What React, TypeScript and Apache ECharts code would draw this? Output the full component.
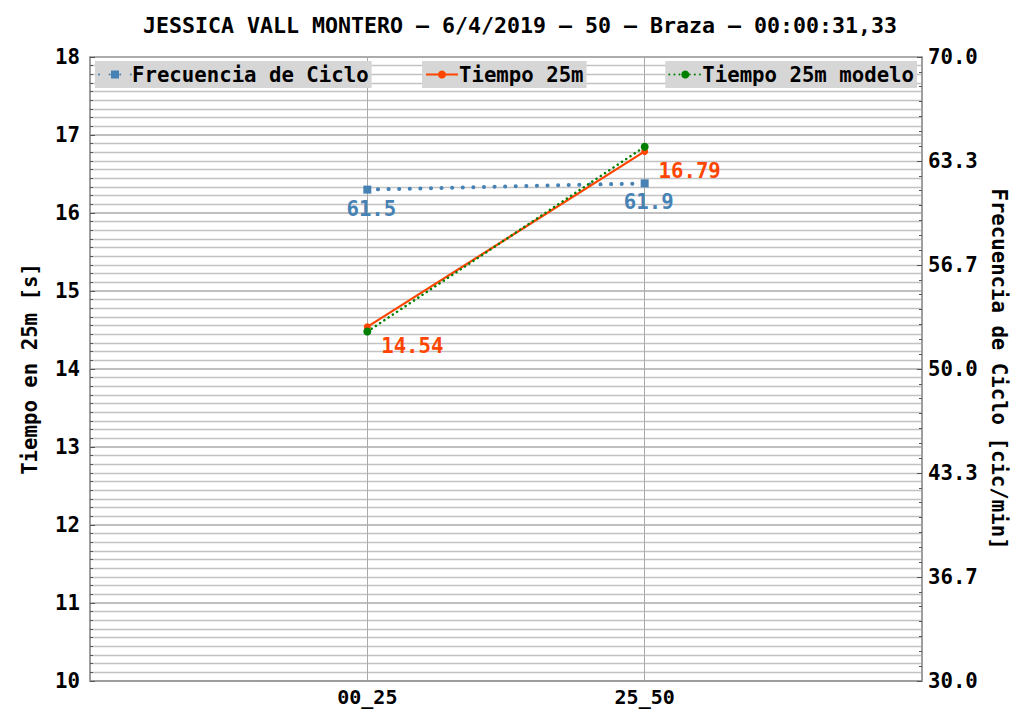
import React, { useEffect, useRef } from "react";
import * as echarts from "echarts";

const titleText = "JESSICA VALL MONTERO – 6/4/2019 – 50 – Braza – 00:00:31,33";
const categories = ["", "00_25", "25_50", ""];
const tiempo25 = [null, 14.54, 16.79, null];
const tiempoModelo = [null, 14.48, 16.85, null];
const frecuencia = [null, 61.5, 61.9, null];
const leftMin = 10;
const leftMax = 18;
const rightMin = 30;
const rightMax = 70;

const FONT = "DejaVu Sans Mono";
const BLUE = "#4682b4";
const RED = "#ff4500";
const GREEN = "#008000";

export default function App() {
  const ref = useRef<HTMLDivElement>(null);
  useEffect(() => {
    if (!ref.current) return;
    const chart = echarts.init(ref.current, null, { renderer: "svg" });
    const txt = { fontFamily: FONT, fontWeight: "bold" as const, fontSize: 20.7, color: "#000" };
    const legendBase = {
      top: 61,
      orient: "horizontal" as const,
      backgroundColor: "#d6d6d6",
      padding: [3, 3, 3, 3],
      itemWidth: 32,
      itemHeight: 10,
      itemGap: 4,
      textStyle: { ...txt, padding: [0, 0, 0, -4] },
    };
    chart.setOption({
      animation: false,
      backgroundColor: "#fff",
      title: {
        text: titleText,
        left: 143,
        top: 14,
        padding: 0,
        textStyle: { ...txt, fontSize: 21.6 },
      },
      legend: [
        { ...legendBase, left: 95, data: ["Frecuencia de Ciclo"] },
        { ...legendBase, left: 422, data: ["Tiempo 25m"] },
        { ...legendBase, right: 111, data: ["Tiempo 25m modelo"] },
      ],
      grid: {
        left: 90,
        right: 106,
        top: 57,
        bottom: 30,
        show: true,
        borderColor: "#999",
        borderWidth: 1.5,
      },
      xAxis: {
        type: "category",
        data: categories,
        boundaryGap: false,
        axisLine: { lineStyle: { color: "#999", width: 1.5 } },
        axisTick: { show: false },
        axisLabel: { ...txt, fontSize: 20, margin: 6, interval: 0 },
        splitLine: { show: true, lineStyle: { color: "#aaa", width: 1 } },
      },
      yAxis: [
        {
          type: "value",
          min: leftMin,
          max: leftMax,
          interval: 1,
          position: "left",
          name: "Tiempo en 25m [s]",
          nameLocation: "middle",
          nameGap: 50,
          nameTextStyle: { ...txt },
          axisLine: { show: true, lineStyle: { color: "#999", width: 1.5 } },
          axisTick: { show: true, inside: true, length: 5, lineStyle: { color: "#555" } },
          minorTick: { show: true, splitNumber: 9, length: 3, lineStyle: { color: "#555" } },
          axisLabel: { ...txt, margin: 10 },
          splitLine: { show: true, lineStyle: { color: "#aaa", width: 1.5 } },
          minorSplitLine: { show: true, lineStyle: { color: "#c2c2c2", width: 1.3 } },
        },
        {
          type: "value",
          min: rightMin,
          max: rightMax,
          interval: (rightMax - rightMin) / 6,
          position: "right",
          name: "Frecuencia de Ciclo [cic/min]",
          nameLocation: "middle",
          nameGap: 66,
          nameRotate: -90,
          nameTextStyle: { ...txt },
          axisLine: { show: true, lineStyle: { color: "#999", width: 1.5 } },
          axisTick: { show: true, inside: true, length: 5, lineStyle: { color: "#555" } },
          minorTick: { show: true, splitNumber: 7, length: 3, lineStyle: { color: "#555" } },
          axisLabel: { ...txt, margin: 6, formatter: (v: number) => v.toFixed(1) },
          splitLine: { show: false },
        },
      ],
      series: [
        {
          name: "Frecuencia de Ciclo",
          type: "line",
          yAxisIndex: 1,
          data: frecuencia,
          symbol: "rect",
          symbolSize: 8,
          lineStyle: { color: BLUE, width: 4, type: [0.1, 10.5], cap: "round" },
          itemStyle: { color: BLUE },
          label: {
            show: true,
            position: "inside",
            offset: [4, 19],
            ...txt,
            color: BLUE,
            formatter: (p: any) => p.value.toFixed(1),
          },
        },
        {
          name: "Tiempo 25m",
          type: "line",
          yAxisIndex: 0,
          data: tiempo25,
          symbol: "circle",
          symbolSize: 7,
          lineStyle: { color: RED, width: 2.2 },
          itemStyle: { color: RED },
          label: {
            show: true,
            position: "inside",
            offset: [45, 19.5],
            ...txt,
            color: RED,
            formatter: (p: any) => p.value.toFixed(2),
          },
        },
        {
          name: "Tiempo 25m modelo",
          type: "line",
          yAxisIndex: 0,
          data: tiempoModelo,
          symbol: "circle",
          symbolSize: 8,
          lineStyle: { color: GREEN, width: 2.5, type: [0.1, 5], cap: "round" },
          itemStyle: { color: GREEN },
        },
      ],
    });
    return () => chart.dispose();
  }, []);
  return (
    <div
      ref={ref}
      style={{ position: "fixed", left: 0, top: 0, width: 1028, height: 711 }}
    />
  );
}
